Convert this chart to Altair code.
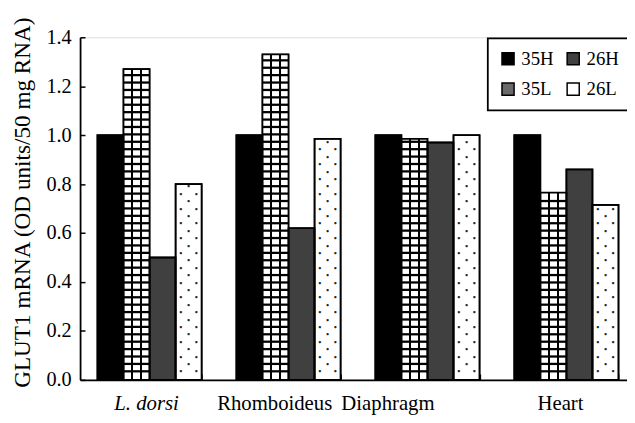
import altair as alt
import pandas as pd

# ---------------- data ----------------
categories = ["L. dorsi", "Rhomboideus", "Diaphragm", "Heart"]
series_names = ["35H", "35L", "26H", "26L"]
v_35H = [1.00, 1.00, 1.00, 1.00]
v_35L = [1.27, 1.33, 0.985, 0.765]
v_26H = [0.50, 0.62, 0.97, 0.86]
v_26L = [0.80, 0.985, 1.00, 0.715]
y_ticks = [0.0, 0.2, 0.4, 0.6, 0.8, 1.0, 1.2, 1.4]
y_title = "GLUT1 mRNA (OD units/50 mg RNA)"

rows = []
for s, vals in zip(series_names, [v_35H, v_35L, v_26H, v_26L]):
    for c, v in zip(categories, vals):
        rows.append({"cat": c, "series": s, "value": v})
df = pd.DataFrame(rows)

# ---------------- layout ----------------
PLOT_W = 554
PLOT_H = 347
X_RANGE = 563
FONT = "Liberation Serif"
UNIT_PX = PLOT_H / 1.4
STEP = 7.5 / UNIT_PX      # hatch period (data units)
LINE = 2.3 / UNIT_PX      # hatch line thickness

# horizontal lines of the 35L grid pattern
hl = []
for c, v in zip(categories, v_35L):
    k = 1
    while k * STEP + LINE < v - 0.004:
        hl.append({"cat": c, "series": "35L", "y0": k * STEP, "y1": k * STEP + LINE})
        k += 1
hl_df = pd.DataFrame(hl)

# dot pattern of 26L
dots = []
for c, v in zip(categories, v_26L):
    k = 1
    while k * STEP < v - 0.012:
        dots.append({"cat": c, "series": "26L", "y": k * STEP, "row": "a" if k % 2 else "b"})
        k += 1
dots_df = pd.DataFrame(dots)

x_scale = alt.Scale(domain=categories, range=[0, X_RANGE], paddingInner=0.25, paddingOuter=0.125)
xo_scale = alt.Scale(domain=series_names, paddingInner=0, paddingOuter=0)
y_scale = alt.Scale(domain=[0, 1.4], nice=False)

x_main_axis = alt.Axis(
    orient="bottom", title=None, ticks=False, domain=True, domainColor="black",
    domainWidth=1.8, labelAngle=0, labelFont=FONT, labelFontSize=21, labelColor="black",
    labelPadding=13, labelBaseline="top",
    labelFontStyle={"condition": {"test": "datum.value == 'L. dorsi'", "value": "italic"}, "value": "normal"},
    labelOffset={"condition": [
        {"test": "datum.value == 'L. dorsi'", "value": -3},
        {"test": "datum.value == 'Rhomboideus'", "value": -14},
        {"test": "datum.value == 'Diaphragm'", "value": -40},
    ], "value": -6},
)
y_main_axis = alt.Axis(
    orient="left", title=y_title, values=y_ticks, format=".1f", ticks=False, grid=False,
    domain=True, domainColor="black", domainWidth=1.8, labelFont=FONT, labelFontSize=20.5,
    labelColor="black", labelPadding=9, titleFont=FONT, titleFontSize=23.5,
    titleFontWeight="normal", titleColor="black", titleX=-58, titleY=167,
    titleBaseline="middle", titleAngle=270,
)
x_tick_axis = alt.Axis(
    orient="top", offset=-PLOT_H, title=None, labels=False, domain=False, ticks=True,
    tickBand="extent", tickSize=6, tickColor="black", tickWidth=1.5,
)
y_tick_axis = alt.Axis(
    orient="right", offset=-PLOT_W, title=None, labels=False, domain=False, ticks=True,
    values=y_ticks, tickSize=5, tickColor="black", tickWidth=1.5, grid=False,
)

X = alt.X("cat:N", sort=categories, scale=x_scale, axis=None)
XO = alt.XOffset("series:N", sort=series_names, scale=xo_scale)

base = alt.Chart(df).mark_bar(stroke="black", strokeWidth=1.5).encode(
    x=alt.X("cat:N", sort=categories, scale=x_scale, axis=x_main_axis),
    xOffset=XO,
    y=alt.Y("value:Q", scale=y_scale, axis=y_main_axis),
    color=alt.Color(
        "series:N",
        scale=alt.Scale(domain=series_names, range=["black", "#6a6a6a", "#404040", "white"]),
        legend=alt.Legend(
            orient="none", legendX=413, legendY=1, columns=2, title=None,
            symbolType="square", symbolSize=150, symbolStrokeColor="black",
            symbolStrokeWidth=1.5, labelFont=FONT, labelFontSize=19, labelColor="black",
            labelOffset=4, strokeColor="black", fillColor="white", padding=11,
            rowPadding=11, columnPadding=10,
        ),
    ),
)

stops = []
for c in [1 / 3, 2 / 3]:
    h = 0.045
    stops += [alt.GradientStop(offset=c - h, color="white"),
              alt.GradientStop(offset=c - h, color="black"),
              alt.GradientStop(offset=c + h, color="black"),
              alt.GradientStop(offset=c + h, color="white")]
stops = [alt.GradientStop(offset=0, color="white")] + stops + [alt.GradientStop(offset=1, color="white")]
vgrad = alt.LinearGradient(gradient="linear", stops=stops, x1=0, x2=1, y1=0, y2=0)

grid_v = alt.Chart(df).transform_filter("datum.series == '35L'").mark_bar(fill=vgrad).encode(
    x=X, xOffset=XO, y=alt.Y("value:Q", scale=y_scale, axis=None)
)
grid_h = alt.Chart(hl_df).mark_bar(color="black").encode(
    x=X, xOffset=XO, y=alt.Y("y0:Q", scale=y_scale, axis=None), y2="y1:Q"
)

def dot_layer(row, dx):
    return alt.Chart(dots_df).transform_filter(f"datum.row == '{row}'").mark_text(
        text="\u2022", fontSize=8, color="#222222", dx=dx, baseline="middle", font="DejaVu Sans"
    ).encode(x=X, xOffset=XO, y=alt.Y("y:Q", scale=y_scale, axis=None))

border = alt.Chart(df).mark_bar(fill="white", fillOpacity=0, stroke="black", strokeWidth=1.8).encode(
    x=alt.X("cat:N", sort=categories, scale=x_scale, axis=x_tick_axis),
    xOffset=XO,
    y=alt.Y("value:Q", scale=y_scale, axis=y_tick_axis),
)

chart = alt.layer(
    base, grid_v, grid_h, dot_layer("a", -7.8), dot_layer("a", 7.8), dot_layer("b", 0), border
).resolve_axis(x="independent", y="independent").properties(
    width=PLOT_W, height=PLOT_H,
    autosize=alt.AutoSizeParams(type="none"),
    padding={"left": 73, "top": 27, "right": 0, "bottom": 38},
    background="white",
).configure_view(stroke=None).configure(font=FONT).configure_legend(strokeWidth=1.8)

chart.save("out.html", embed_options={"renderer": "svg", "actions": False})
